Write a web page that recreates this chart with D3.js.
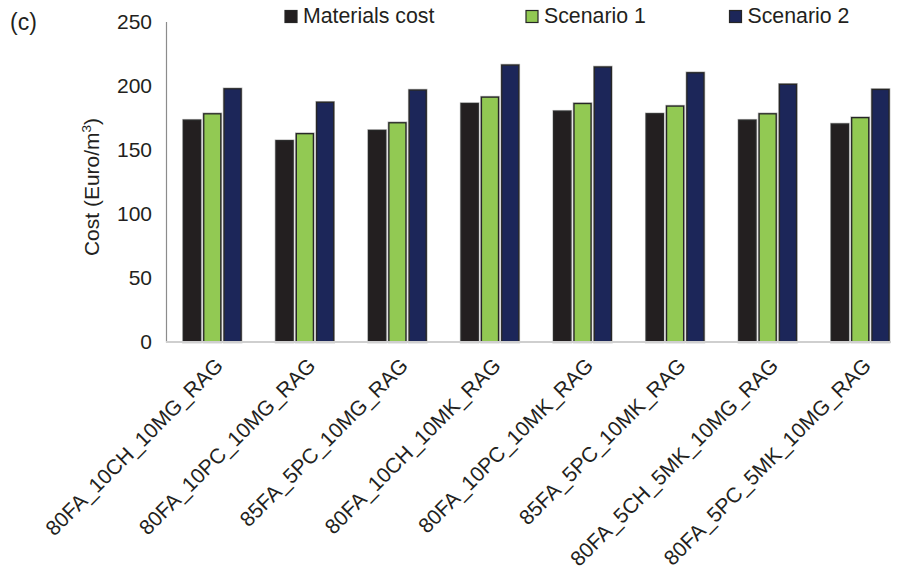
<!DOCTYPE html>
<html>
<head>
<meta charset="utf-8">
<script src="https://cdn.jsdelivr.net/npm/d3@7"></script>
<style>
  html, body { margin: 0; padding: 0; background: #fff; }
  svg { display: block; font-family: "Liberation Sans", Arial, Helvetica, sans-serif; }
</style>
</head>
<body>
<svg id="chart" width="899" height="576"></svg>
<script>
// Mix designs on the x axis
const categories = [
  "80FA_10CH_10MG_RAG",
  "80FA_10PC_10MG_RAG",
  "85FA_5PC_10MG_RAG",
  "80FA_10CH_10MK_RAG",
  "80FA_10PC_10MK_RAG",
  "85FA_5PC_10MK_RAG",
  "80FA_5CH_5MK_10MG_RAG",
  "80FA_5PC_5MK_10MG_RAG"
];

// Cost per cubic metre (Euro/m³)
const materialsCost = [173, 157, 165, 186, 180, 178, 173, 170];
const scenario1     = [178, 162.5, 171, 191, 186, 184, 178, 175];
const scenario2     = [197.5, 187, 196.5, 216, 214.5, 210, 201, 197];

const seriesNames = ["Materials cost", "Scenario 1", "Scenario 2"];
const seriesColors = ["#231f20", "#92c953", "#1c2659"];
const yTicks = [0, 50, 100, 150, 200, 250];

const seriesValues = [materialsCost, scenario1, scenario2];
const rows = categories.map((c, i) => ({
  category: c,
  values: seriesNames.map((s, k) => ({ series: s, value: seriesValues[k][i], color: seriesColors[k] }))
}));

const svg = d3.select("#chart");
const plotLeft = 166, plotRight = 906.5, plotTop = 21.5, plotBottom = 342;

const x0 = d3.scaleBand().domain(categories).range([plotLeft, plotRight])
  .paddingInner(0.377).paddingOuter(0.1885);
const x1 = d3.scaleBand().domain(seriesNames).range([0, x0.bandwidth()]).paddingInner(0.16);
const y = d3.scaleLinear().domain([0, 250]).range([plotBottom, plotTop]);

// y axis
const yAxis = svg.append("g")
  .attr("transform", `translate(${plotLeft},0)`)
  .call(d3.axisLeft(y).tickValues(yTicks).tickSize(0).tickPadding(14));
yAxis.select(".domain").attr("stroke", "#8c8c8c").attr("stroke-width", 1.2);
yAxis.selectAll("text")
  .attr("font-size", 21)
  .attr("fill", "#231f20")
  .attr("font-family", "Liberation Sans, Arial, sans-serif");

// bars
const groups = svg.append("g").selectAll("g")
  .data(rows).join("g")
  .attr("transform", d => `translate(${x0(d.category)},0)`);

groups.selectAll("rect.halo")
  .data(d => d.values).join("rect")
  .attr("class", "halo")
  .attr("x", d => x1(d.series))
  .attr("y", d => y(d.value))
  .attr("width", x1.bandwidth())
  .attr("height", d => y(0) - y(d.value))
  .attr("fill", "none")
  .attr("stroke", "#b4b4b4")
  .attr("stroke-width", 2.6);

groups.selectAll("rect.bar")
  .data(d => d.values).join("rect")
  .attr("class", "bar")
  .attr("x", d => x1(d.series))
  .attr("y", d => y(d.value))
  .attr("width", x1.bandwidth())
  .attr("height", d => y(0) - y(d.value))
  .attr("fill", d => d.color)
  .attr("stroke", "#262626")
  .attr("stroke-width", 1.3);

// x axis baseline
svg.append("line")
  .attr("x1", plotLeft).attr("x2", 891)
  .attr("y1", y(0)).attr("y2", y(0))
  .attr("stroke", "#cfcfcf").attr("stroke-width", 2);

// rotated category labels
svg.append("g").selectAll("text")
  .data(categories).join("text")
  .attr("transform", d => `translate(${x0(d) + x0.bandwidth() / 2 + 12},${y(0) + 25}) rotate(-45)`)
  .attr("text-anchor", "end")
  .attr("font-size", 21)
  .attr("fill", "#231f20")
  .text(d => d);

// y axis title
svg.append("text")
  .attr("transform", `translate(99,187) rotate(-90)`)
  .attr("text-anchor", "middle")
  .attr("font-size", 21)
  .attr("fill", "#231f20")
  .call(t => {
    t.append("tspan").text("Cost (Euro/m");
    t.append("tspan").attr("font-size", 13.5).attr("dy", -8).text("3");
    t.append("tspan").attr("dy", 8).text(")");
  });

// panel letter
svg.append("text")
  .attr("x", 10).attr("y", 30)
  .attr("font-size", 23)
  .attr("fill", "#231f20")
  .text("(c)");

// legend
const legendX = [285, 526, 729.5];
const legend = svg.append("g").selectAll("g")
  .data(seriesNames).join("g")
  .attr("transform", (d, i) => `translate(${legendX[i]},10.5)`);
legend.append("rect")
  .attr("width", 12).attr("height", 12)
  .attr("fill", (d, i) => seriesColors[i])
  .attr("stroke", "#262626").attr("stroke-width", 1.2);
legend.append("text")
  .attr("x", 18).attr("y", 12.8)
  .attr("font-size", 21.3)
  .attr("fill", "#231f20")
  .text(d => d);
</script>
</body>
</html>
